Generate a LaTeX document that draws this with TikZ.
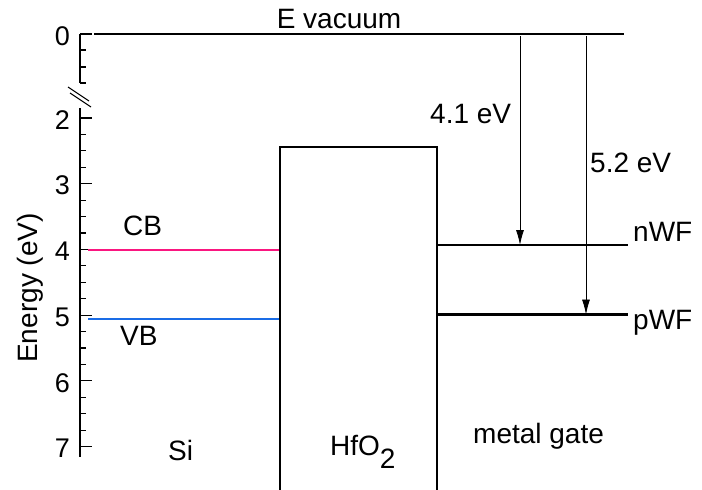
\documentclass[tikz,border=0pt]{standalone}
\usepackage{fontspec}
\setmainfont{Liberation Sans}
\usetikzlibrary{positioning, arrows.meta}
\definecolor{cbpink}{RGB}{250,22,128}
\definecolor{vbblue}{RGB}{26,108,230}

\begin{document}
\begin{tikzpicture}[x=1pt, y=-1pt,
    txt/.style={font=\fontsize{28}{30}\selectfont, inner sep=0pt},
    ticklabel/.style={font=\fontsize{27}{30}\selectfont, inner sep=0pt, anchor=east},
    axis/.style={line width=1.3pt},
    tick/.style={line width=1.1pt},
    band/.style={line width=2pt},
    level/.style={line width=2.3pt},
    arrow/.style={-{Latex[length=15pt, width=8pt]}, line width=0.8pt}
]
\useasboundingbox (0,0) rectangle (702,490);

% Axis with break
\draw[axis] (80,34) -- (80,83);
\draw[axis] (80,108) -- (80,457);
\draw[line width=1.1pt] (68,87) -- (89,101);
\draw[line width=1.1pt] (70,93) -- (91,107);
\draw[tick] (80,34) -- (92,34);
\foreach \y in {50,67,83}
  \draw[tick] (80,\y) -- (86,\y);
\node (t0) [ticklabel] at (70,36) {0};
\foreach \e in {2,...,7} {
  \pgfmathsetmacro\y{118+(\e-2)*65.7}
  \draw[tick] (80,\y) -- (92,\y);
  \node (t\e) [ticklabel] at (70,\y+2) {\e};
}
\foreach \e in {2.25,2.5,...,6.8} {
  \pgfmathsetmacro\y{118+(\e-2)*65.7}
  \draw[tick] (80,\y) -- (86,\y);
}
\node (energy) [txt, rotate=90] at (30,288) {Energy (eV)};

% Vacuum level
\coordinate (vacL) at (94,34);
\coordinate (vacR) at (624,34);
\draw[line width=1.1pt] (vacL) -- (vacR);
\node (vacuum) [txt, anchor=base] at (339,28) {E vacuum};

% Si bands
\coordinate (cbL) at (88,250);
\coordinate (cbR) at (280,250);
\coordinate (vbL) at (88,318.5);
\coordinate (vbR) at (280,318.5);
\draw[band, cbpink] (cbL) -- (cbR);
\draw[band, vbblue] (vbL) -- (vbR);
\node (cb) [txt, anchor=base west] at (123,235) {CB};
\node (vb) [txt, anchor=base west] at (120,345) {VB};
\node (si) [txt, anchor=base west] at (168,460) {Si};

% HfO2 barrier
\draw[line width=1.2pt] (280,490) -- (280,147) -- (437,147) -- (437,490);
\node (hfo) [txt, anchor=base west] at (330,455) {HfO\raisebox{-13pt}{2}};

% Metal gate work functions
\coordinate (nwfL) at (437,245);
\coordinate (nwfR) at (628,245);
\coordinate (pwfL) at (437,314.5);
\coordinate (pwfR) at (628,314.5);
\draw[level] (nwfL) -- (nwfR);
\draw[level] (pwfL) -- (pwfR);
\node (nwf) [txt, anchor=base west] at (633,241) {nWF};
\node (pwf) [txt, anchor=base west] at (633,329) {pWF};
\node (gate) [txt, anchor=base west] at (473,443) {metal gate};

% Work function arrows
\coordinate (nTop) at (520,36);
\coordinate (nEnd) at (520,245);
\coordinate (pTop) at (586,36);
\coordinate (pEnd) at (586,314.5);
\draw[arrow] (nTop) -- (nEnd);
\draw[arrow] (pTop) -- (pEnd);
\node (nlab) [txt, anchor=base west] at (430,123) {4.1 eV};
\node (plab) [txt, anchor=base west] at (590,172) {5.2 eV};

\end{tikzpicture}
\end{document}
